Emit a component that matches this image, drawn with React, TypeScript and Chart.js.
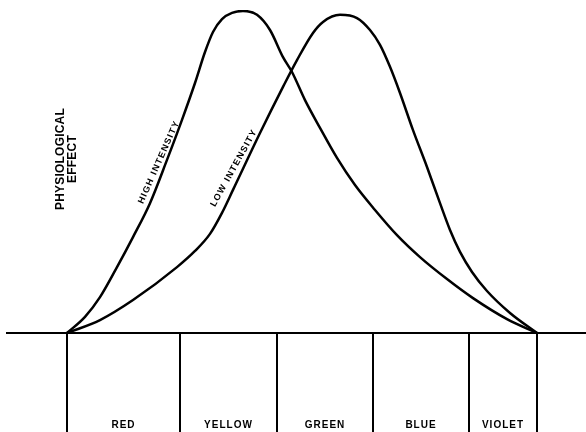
import React, { useEffect, useRef } from "react";
import { Chart, registerables } from "chart.js";

Chart.register(...registerables);

// Spectral bands along the baseline (x in arbitrary spectrum units)
const bandNames = ["RED", "YELLOW", "GREEN", "BLUE", "VIOLET"];
const bandEdges = [0, 11.3, 21.0, 30.6, 40.2, 47.0];

// High intensity curve
const highX = [0, 1.8, 3.3, 5.0, 6.6, 8.3, 10.0, 11.5, 12.8, 13.8, 14.6, 15.5, 16.5, 17.6, 19.0, 20.3, 21.6, 22.5, 23.8, 25.3, 27.0, 28.8, 30.8, 33.0, 35.3, 38.0, 40.6, 44.0, 47.0];
const highY = [0, 5.0, 11.1, 20.4, 29.7, 40.2, 53.6, 66.0, 77.4, 87.0, 93.2, 97.2, 99.1, 99.7, 98.5, 93.8, 85.4, 80.8, 72.1, 63.5, 54.2, 45.8, 38.1, 30.3, 23.5, 16.7, 10.8, 4.3, 0];

// Low intensity curve
const lowX = [0, 3.3, 6.6, 11.0, 12.8, 14.3, 15.5, 16.6, 19.3, 21.6, 23.0, 24.6, 25.6, 27.3, 29.0, 30.3, 31.3, 32.3, 33.3, 34.6, 36.0, 37.3, 38.3, 39.3, 40.5, 42.0, 44.3, 47.0];
const lowY = [0, 4.0, 10.2, 20.4, 25.4, 30.7, 37.2, 44.3, 61.9, 76.2, 84.5, 92.9, 96.3, 98.5, 97.5, 93.8, 89.2, 82.4, 74.3, 62.8, 51.4, 40.2, 31.9, 25.1, 18.9, 13.0, 6.2, 0];

const yTitleLines = ["PHYSIOLOGICAL", "EFFECT"];
const highLabel = "HIGH INTENSITY";
const lowLabel = "LOW INTENSITY";

const bandMids = bandNames.map((_, i) => (bandEdges[i] + bandEdges[i + 1]) / 2);
const tickValues = [...bandEdges, ...bandMids].sort((a, b) => a - b);
const isEdge = (v: number) => bandEdges.some((e) => Math.abs(e - v) < 1e-6);
const labelFor = (v: number) => {
  const i = bandMids.findIndex((m) => Math.abs(m - v) < 1e-6);
  return i >= 0 ? bandNames[i] : "";
};

const textPlugin = {
  id: "diagramTexts",
  beforeDraw(chart: any) {
    chart.ctx.letterSpacing = "1px";
  },
  afterDraw(chart: any) {
    const { ctx, scales } = chart;
    const xs = scales.x;
    const ys = scales.y;
    ctx.save();
    ctx.fillStyle = "#000";
    ctx.textAlign = "center";
    ctx.textBaseline = "middle";

    // vertical axis title (two lines, rotated)
    ctx.font = 'bold 12px "Liberation Sans", Arial, sans-serif';
    ctx.letterSpacing = "0.2px";
    const titleLineX = [61, 73];
    yTitleLines.forEach((t, i) => {
      ctx.save();
      ctx.translate(titleLineX[i], 159);
      ctx.rotate(-Math.PI / 2);
      ctx.fillText(t, 0, 0);
      ctx.restore();
    });

    // curve labels along the rising branches
    ctx.font = 'bold 9px "Liberation Sans", Arial, sans-serif';
    ctx.letterSpacing = "1.3px";
    const drawAlong = (t: string, xv: number, yv: number, deg: number) => {
      ctx.save();
      ctx.translate(xs.getPixelForValue(xv), ys.getPixelForValue(yv));
      ctx.rotate((deg * Math.PI) / 180);
      ctx.fillText(t, 0, 0);
      ctx.restore();
    };
    drawAlong(highLabel, 9.2, 52.9, -66);
    drawAlong(lowLabel, 16.7, 51.1, -61);

    ctx.restore();
    ctx.letterSpacing = "0px";
  },
};

export default function App() {
  const ref = useRef<HTMLCanvasElement | null>(null);
  useEffect(() => {
    if (!ref.current) return;
    const chart = new Chart(ref.current, {
      type: "line",
      data: {
        datasets: [
          {
            label: highLabel,
            data: highX.map((x, i) => ({ x, y: highY[i] })),
            borderColor: "#000",
            borderWidth: 2.5,
            pointRadius: 0,
            cubicInterpolationMode: "monotone",
            fill: false,
          },
          {
            label: lowLabel,
            data: lowX.map((x, i) => ({ x, y: lowY[i] })),
            borderColor: "#000",
            borderWidth: 2.5,
            pointRadius: 0,
            cubicInterpolationMode: "monotone",
            fill: false,
          },
        ],
      },
      options: {
        responsive: false,
        animation: false,
        layout: { padding: { top: 10, left: 7, right: 0, bottom: 0 } },
        plugins: { legend: { display: false }, tooltip: { enabled: false } },
        scales: {
          x: {
            type: "linear",
            position: "bottom",
            min: -6,
            max: 51.9,
            afterBuildTicks: (scale: any) => {
              scale.ticks = tickValues.map((value) => ({ value }));
            },
            grid: {
              drawOnChartArea: false,
              drawTicks: true,
              tickLength: 295,
              lineWidth: 2,
              color: (c: any) => (c.tick && isEdge(c.tick.value) ? "#000" : "rgba(0,0,0,0)"),
            },
            border: { display: true, color: "#000", width: 2 },
            ticks: {
              autoSkip: false,
              maxRotation: 0,
              minRotation: 0,
              mirror: true,
              padding: -98,
              color: "#000",
              font: { family: '"Liberation Sans", Arial, sans-serif', size: 10, weight: "bold" },
              callback: (v: any) => labelFor(Number(v)),
            },
          },
          y: {
            display: false,
            min: 0,
            max: 100,
          },
        },
      },
      plugins: [textPlugin],
    } as any);
    return () => chart.destroy();
  }, []);
  return (
    <div style={{ position: "fixed", left: 0, top: 0, width: 586, height: 432, background: "#fff" }}>
      <canvas ref={ref} width={586} height={432} style={{ display: "block" }} />
    </div>
  );
}
